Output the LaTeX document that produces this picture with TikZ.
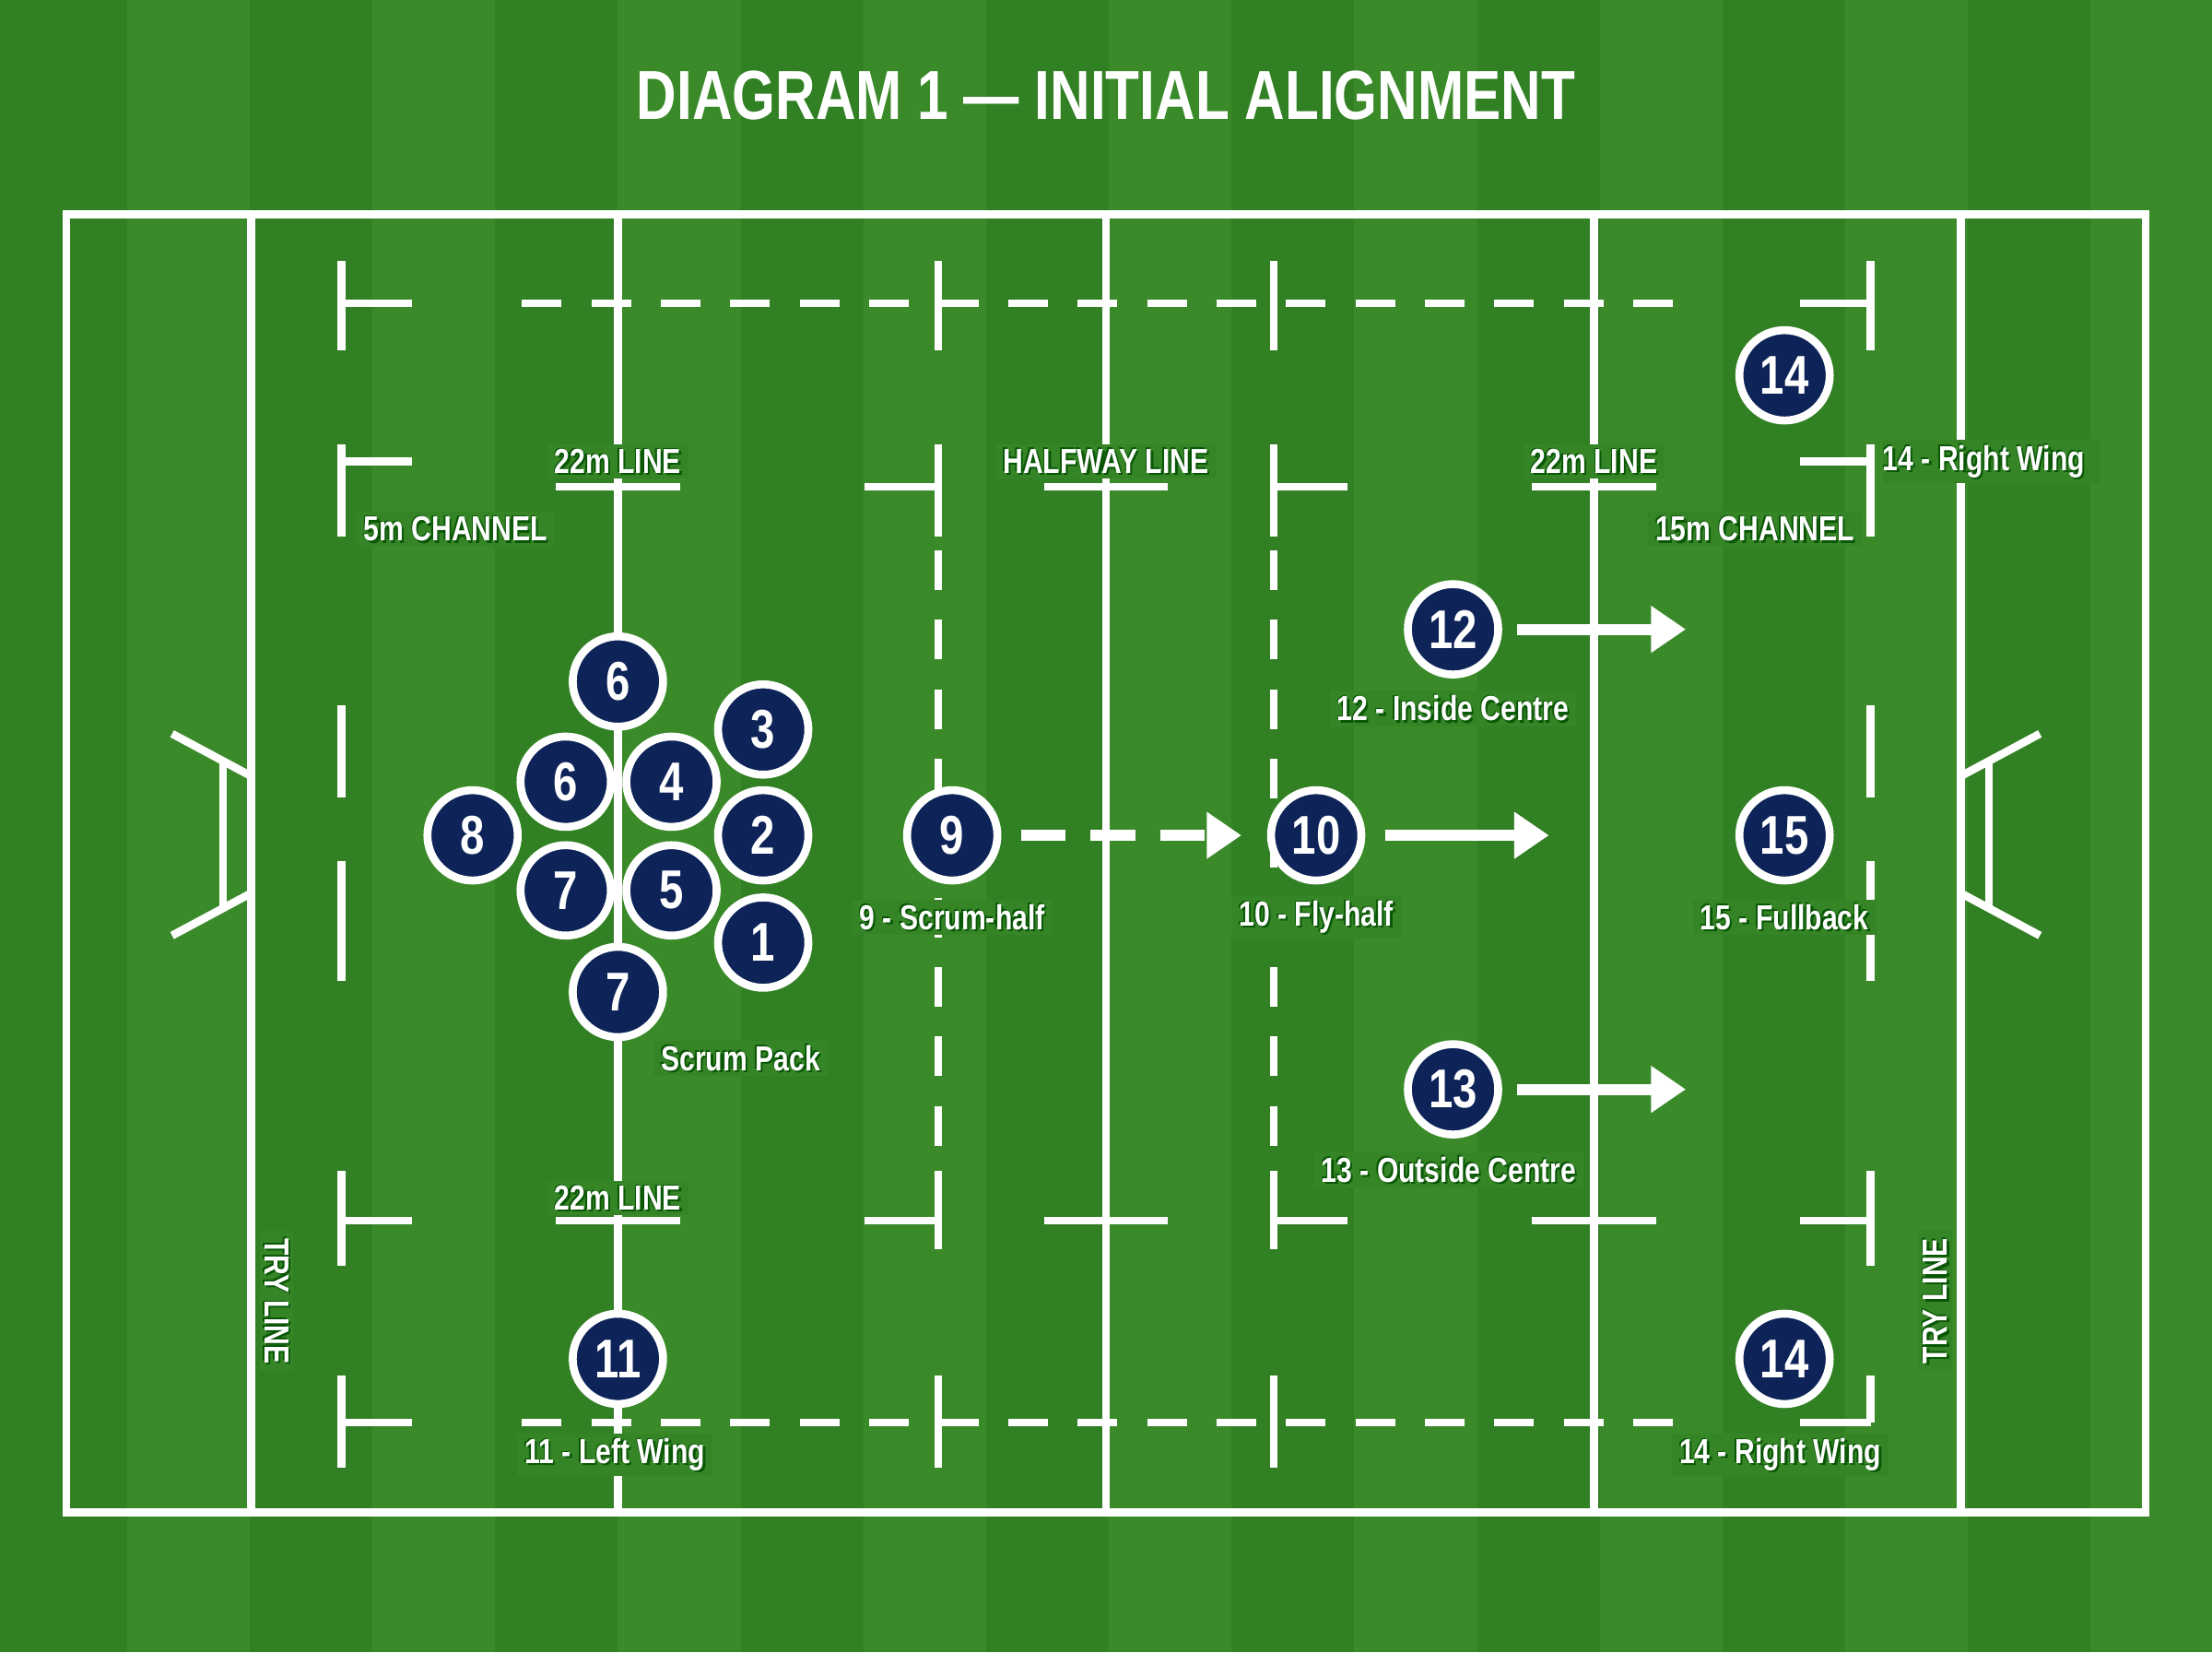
\documentclass[tikz,border=0pt]{standalone}
\usepackage{fontspec}
\setmainfont{Liberation Sans}
\newfontfamily\cond[FakeStretch=0.8]{Liberation Sans}
\usetikzlibrary{arrows.meta, positioning}
\definecolor{pitchdark}{RGB}{50,128,36}
\definecolor{pitchlight}{RGB}{58,138,42}
\definecolor{playercolor}{RGB}{14,36,88}

\tikzset{
  pitchline/.style={white, line width=1.6pt},
  dashline/.style={white, line width=1.6pt, dash pattern=on 8pt off 6pt},
  player/.style={circle, fill=playercolor, draw=white, line width=1.6pt, minimum size=0.64cm, inner sep=0pt,
    text=white, font=\cond\bfseries\fontsize{11}{11}\selectfont},
  lbl/.style={text=white, font=\cond\bfseries\fontsize{7}{7}\selectfont, inner sep=0pt},
  shadowlbl/.style={lbl, text=black!70!green, opacity=0.8},
  backlbl/.style={lbl, text opacity=0, fill=pitchdark!60!pitchlight, inner xsep=1.5pt, inner ysep=1pt},
  move/.style={white, line width=2.2pt, -{Triangle[length=7pt,width=9pt]}},
}
% label with a dark drop shadow
\newcommand\pitchlabel[3][]{%
  \node[backlbl, #1] at (#2) {#3};
  \node[shadowlbl, #1] at ([shift={(1.5,1.5)}]#2) {#3};
  \node[shadowlbl, #1] at ([shift={(-1,-1)}]#2) {#3};
  \node[lbl, #1] at (#2) {#3};
}

\begin{document}
\begin{tikzpicture}[x=0.01cm, y=-0.01cm]
  \useasboundingbox (0,0) rectangle (1568,1171);
  \fill[pitchdark] (0,0) rectangle (1568,1171);
  \foreach \i in {0,2,...,16} {
    \fill[pitchlight] (\i*87+90,0) rectangle (\i*87+177,1171);
  }

  % title
  \node[text=white, font=\cond\bfseries\fontsize{14}{14}\selectfont] (title) at (784,68) {DIAGRAM 1 — INITIAL ALIGNMENT};

  % pitch outline and main lines
  \draw[pitchline] (47,152) rectangle (1521,1072);
  \foreach \x in {178,438,784,1130,1390} {
    \draw[pitchline] (\x,152) -- (\x,1072);
  }
  \draw[dashline] (370,215) -- (1200,215);
  \draw[dashline] (370,1008) -- (1200,1008);

  % 10m lines
  \foreach \x in {665,903} {
    \draw[pitchline] (\x,185) -- (\x,248);
    \draw[pitchline] (\x,315) -- (\x,380);
    \draw[dashline] (\x,390) -- (\x,830);
    \draw[pitchline] (\x,830) -- (\x,885);
    \draw[pitchline] (\x,975) -- (\x,1040);
  }
  \draw[pitchline] (613,345) -- (665,345);
  \draw[pitchline] (613,865) -- (665,865);
  \draw[pitchline] (903,345) -- (955,345);
  \draw[pitchline] (903,865) -- (955,865);

  % markers on 22m and halfway
  \foreach \x in {438,784,1130} {
    \draw[pitchline] (\x-44,345) -- (\x+44,345);
    \draw[pitchline] (\x-44,865) -- (\x+44,865);
  }

  % 5m lines
  \foreach \x/\d in {242/1,1326/-1} {
    \draw[pitchline] (\x,185) -- (\x,248);
    \draw[pitchline] (\x,215) -- (\x+\d*50,215);
    \draw[pitchline] (\x,315) -- (\x,380);
    \draw[pitchline] (\x,327) -- (\x+\d*50,327);
    \draw[pitchline] (\x,500) -- (\x,565);
    \draw[pitchline] (\x,610) -- (\x,695);
    \draw[pitchline] (\x,830) -- (\x,897);
    \draw[pitchline] (\x,865) -- (\x+\d*50,865);
    \draw[pitchline] (\x,1008) -- (\x+\d*50,1008);
  }
  \draw[pitchline] (242,975) -- (242,1040);
  \draw[pitchline] (1326,975) -- (1326,1008);

  % goal posts
  \draw[pitchline] (122,520) -- (178,550);
  \draw[pitchline] (122,663) -- (178,633);
  \draw[pitchline] (158,538) -- (158,645);
  \draw[pitchline] (1446,520) -- (1390,550);
  \draw[pitchline] (1446,663) -- (1390,633);
  \draw[pitchline] (1410,538) -- (1410,645);

  % line labels
  \pitchlabel{438,327}{22m LINE}
  \pitchlabel{784,327}{HALFWAY LINE}
  \pitchlabel{1130,327}{22m LINE}
  \pitchlabel{438,849}{22m LINE}
  \pitchlabel{323,375}{5m CHANNEL}
  \pitchlabel{1244,375}{15m CHANNEL}
  \pitchlabel[rotate=-90]{196,922}{TRY LINE}
  \pitchlabel[rotate=90]{1372,922}{TRY LINE}

  % scrum pack
  \node[player] (p6a) at (438,483) {6};
  \node[player] (p3) at (541,517) {3};
  \node[player] (p6b) at (401,554) {6};
  \node[player] (p4) at (476,554) {4};
  \node[player] (p8) at (335,592) {8};
  \node[player] (p2) at (541,592) {2};
  \node[player] (p7a) at (401,631) {7};
  \node[player] (p5) at (476,631) {5};
  \node[player] (p1) at (541,668) {1};
  \node[player] (p7b) at (438,703) {7};
  \pitchlabel{525,750}{Scrum Pack}

  % backs
  \node[player] (p9) at (675,592) {9};
  \node[player] (p10) at (933,592) {10};
  \node[player] (p12) at (1030,446) {12};
  \node[player] (p13) at (1030,772) {13};
  \node[player] (p15) at (1265,592) {15};
  \node[player] (p14a) at (1265,266) {14};
  \node[player] (p14b) at (1265,963) {14};
  \node[player] (p11) at (438,963) {11};

  \pitchlabel{675,650}{9 - Scrum-half}
  \pitchlabel{933,650}{10 - Fly-half}
  \pitchlabel{1030,502}{12 - Inside Centre}
  \pitchlabel{1027,829}{13 - Outside Centre}
  \pitchlabel{1265,650}{15 - Fullback}
  \pitchlabel[anchor=west]{1334,327}{14 - Right Wing}
  \pitchlabel{1262,1031}{14 - Right Wing}
  \pitchlabel{436,1031}{11 - Left Wing}

  % movement
  \coordinate (e9) at (880,592);
  \coordinate (e10) at (1098,592);
  \coordinate (e12) at (1195,446);
  \coordinate (e13) at (1195,772);
  \draw[move, dash pattern=on 9pt off 5pt] ([xshift=4pt]p9.east) -- (e9);
  \draw[move] ([xshift=4pt]p10.east) -- (e10);
  \draw[move] ([xshift=3pt]p12.east) -- (e12);
  \draw[move] ([xshift=3pt]p13.east) -- (e13);
\end{tikzpicture}
\end{document}
